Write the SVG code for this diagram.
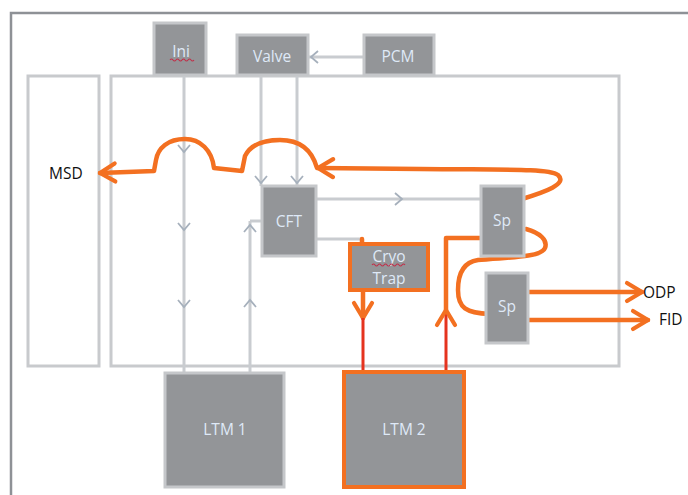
<svg xmlns="http://www.w3.org/2000/svg" width="688" height="495" viewBox="0 0 688 495">
<style>
.frame{fill:none;stroke:#8e9196;stroke-width:2.5}
.panel{fill:#ffffff;stroke:#c8cacd;stroke-width:3}
.box{fill:#939598;stroke:#c5c7ca;stroke-width:3}
.obox{fill:#939598;stroke:#f37021;stroke-width:4}
.lbl{font-family:"Open Sans","Liberation Sans",sans-serif;font-size:15.5px;fill:#dfe9f7;text-anchor:middle}
.ext{font-family:"Open Sans","Liberation Sans",sans-serif;font-size:15.5px;fill:#111111}
.g{fill:none;stroke:#c9ccd0;stroke-width:3}
.o{fill:none;stroke:#f37021;stroke-width:4.5;stroke-linecap:round;stroke-linejoin:round}
.r{fill:none;stroke:#e5331f;stroke-width:3}
.sq{fill:none;stroke:#c0304a;stroke-width:1.1}
</style>
<defs>
<marker id="chev" viewBox="-9 -8 11 16" refX="0" refY="0" markerWidth="11" markerHeight="16" markerUnits="userSpaceOnUse" orient="auto">
<path d="M-7,-6 L0,0 L-7,6" fill="none" stroke="#a6b0bc" stroke-width="1.8"/>
</marker>
<marker id="oarr" viewBox="-19 -12 22 24" refX="0" refY="0" markerWidth="22" markerHeight="24" markerUnits="userSpaceOnUse" orient="auto">
<path d="M-15,-9 L0,0 L-15,9" fill="none" stroke="#f37021" stroke-width="4.2" stroke-linecap="round" stroke-linejoin="round"/>
</marker>
</defs>
<rect width="688" height="495" fill="#ffffff"/>
<path class="frame" d="M11,495 V13 H688"/>
<g id="panels">
<rect class="panel" x="28" y="76" width="71" height="290"/>
<rect class="panel" x="111" y="76" width="508" height="290"/>
</g>
<g id="connectors">
<path class="g" d="M363,57 H311 H309" marker-mid="url(#chev)"/>
<path class="g" d="M184,75 V152 V230 V307 V372" marker-mid="url(#chev)"/>
<path class="g" d="M261,75 V183 V186" marker-mid="url(#chev)"/>
<path class="g" d="M297,75 V183 V186" marker-mid="url(#chev)"/>
<path class="g" d="M250,372 V300 V225 V221" marker-mid="url(#chev)"/>
<path class="g" d="M250,221 H262"/>
<path class="g" d="M317,199 H402 H481" marker-mid="url(#chev)"/>
<path class="g" d="M317,239 H362"/>
<path class="o" d="M362,239 V244"/>
<path class="o" d="M522,199 C545,192 568,184 558,175 C548,168 500,170 420,169 L318,168" marker-end="url(#oarr)"/>
<path class="o" d="M317,168 C312,150 300,140 280,140 C262,140 250,146 245,156 L242,171 L214,168 C212,150 200,139 185,139 C168,139 158,148 156,160 L154,171 L100,173" marker-end="url(#oarr)"/>
<path class="o" d="M526,229 C540,233 548,240 545,248 C542,256 520,257 478,260 C464,262 458,272 458,290 C458,308 466,313 490,314"/>
<path class="o" d="M528,292 H642" marker-end="url(#oarr)"/>
<path class="o" d="M528,320 H648" marker-end="url(#oarr)"/>
<path class="o" d="M363,290 V318" marker-end="url(#oarr)"/>
<path class="r" d="M363,318 V371"/>
<path class="r" d="M446,371 V310" marker-end="url(#oarr)"/>
<path class="o" d="M446,310 V238 H480"/>
</g>
<g id="ini">
<rect class="box" x="154" y="23" width="52" height="52"/>
<text class="lbl" x="181" y="57">Ini</text>
<path class="sq" d="M170,60 q1.5,-2 3,0 t3,0 t3,0 t3,0 t3,0 t3,0 t3,0 t3,0"/>
</g>
<g id="valve">
<rect class="box" x="237" y="35" width="71" height="40"/>
<text class="lbl" x="272" y="62">Valve</text>
</g>
<g id="pcm">
<rect class="box" x="364" y="35" width="70" height="40"/>
<text class="lbl" x="398" y="62">PCM</text>
</g>
<g id="cft">
<rect class="box" x="262" y="186" width="54" height="70"/>
<text class="lbl" x="289" y="227">CFT</text>
</g>
<g id="cryotrap">
<rect class="obox" x="350" y="244" width="78" height="46"/>
<text class="lbl" x="389" y="262">Cryo</text>
<text class="lbl" x="389" y="284">Trap</text>
<path class="sq" d="M372,265 q1.5,-2 3,0 t3,0 t3,0 t3,0 t3,0 t3,0 t3,0 t3,0 t3,0 t3,0 t3,0"/>
</g>
<g id="sp1">
<rect class="box" x="481" y="186" width="43" height="70"/>
<text class="lbl" x="502" y="226">Sp</text>
</g>
<g id="sp2">
<rect class="box" x="486" y="273" width="42" height="70"/>
<text class="lbl" x="507" y="312">Sp</text>
</g>
<g id="ltm1">
<rect class="box" x="165" y="373" width="119" height="114"/>
<text class="lbl" x="225" y="435">LTM 1</text>
</g>
<g id="ltm2">
<rect class="obox" x="344" y="372" width="120" height="115"/>
<text class="lbl" x="404" y="435">LTM 2</text>
</g>
<g id="msd">
<text class="ext" x="49" y="179">MSD</text>
</g>
<g id="odp">
<text class="ext" x="643" y="298">ODP</text>
</g>
<g id="fid">
<text class="ext" x="659" y="325">FID</text>
</g>
</svg>
